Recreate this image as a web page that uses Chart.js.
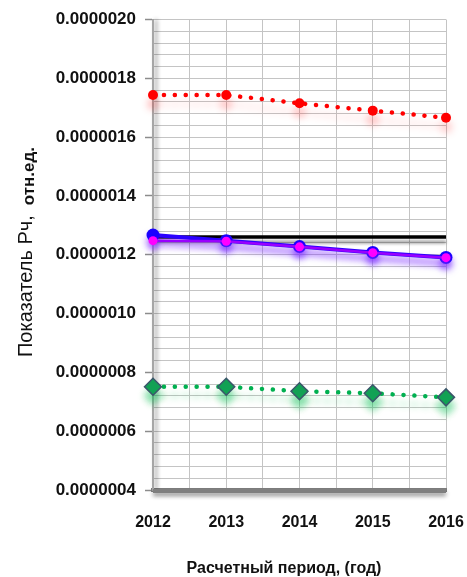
<!DOCTYPE html>
<html>
<head>
<meta charset="utf-8">
<script src="https://cdn.jsdelivr.net/npm/chart.js@4"></script>
<style>
  html, body { margin: 0; padding: 0; background: #ffffff; }
  #wrap { width: 467px; height: 577px; }
</style>
</head>
<body>
<div id="wrap"><canvas id="chart" width="467" height="577"></canvas></div>
<script>
// Calculation years and indicator values (relative units)
const years = [2012, 2013, 2014, 2015, 2016];
const seriesRed     = [0.000001743, 0.000001743, 0.000001715, 0.000001690, 0.000001666];
const seriesBlack   = [0.000001260, 0.000001260, 0.000001260, 0.000001260, 0.000001260];
const seriesBlue    = [0.000001267, 0.000001248, 0.000001228, 0.000001208, 0.000001191];
const seriesMagenta = [0.000001248, 0.000001246, 0.000001227, 0.000001207, 0.000001190];
const seriesGreen   = [0.000000751, 0.000000751, 0.000000736, 0.000000729, 0.000000715];

// Labelled values of the vertical axis; each step is split into minor grid lines
const yTickLabels = ['0.0000004', '0.0000006', '0.0000008', '0.0000010', '0.0000012',
                     '0.0000014', '0.0000016', '0.0000018', '0.0000020'];
const yMinorSplit = 5;
const xGridStep = 0.5;

const yTitleMain = 'Показатель Рч,';
const yTitleUnit = 'отн.ед.';
const xTitle = 'Расчетный период, (год)';

const FONT = '"Liberation Sans", Arial, sans-serif';

const toPoints = arr => arr.map((v, i) => ({ x: years[i], y: v }));

// Soft coloured shadow under a dataset
const glowPlugin = {
  id: 'glow',
  beforeDatasetDraw(chart, args) {
    const g = chart.data.datasets[args.index].glow;
    if (!g) return;
    const ctx = chart.ctx;
    ctx.save();
    ctx.shadowColor = g.color;
    ctx.shadowBlur = g.blur;
    ctx.shadowOffsetX = g.dx || 0;
    ctx.shadowOffsetY = g.dy || 0;
  },
  afterDatasetDraw(chart, args) {
    if (chart.data.datasets[args.index].glow) chart.ctx.restore();
  }
};

// Drop shadow along the two axis lines
const axisShadowPlugin = {
  id: 'axisShadow',
  beforeDatasetsDraw(chart) {
    const { ctx, chartArea: a } = chart;
    ctx.save();
    ctx.lineCap = 'butt';
    ctx.shadowColor = 'rgba(0,0,0,0.45)';
    ctx.shadowBlur = 4;
    ctx.shadowOffsetX = 3;
    ctx.strokeStyle = '#a6a6a6';
    ctx.lineWidth = 2;
    ctx.beginPath();
    ctx.moveTo(a.left, a.top);
    ctx.lineTo(a.left, a.bottom);
    ctx.stroke();
    ctx.shadowOffsetX = 0;
    ctx.shadowOffsetY = 3;
    ctx.strokeStyle = '#7f7f7f';
    ctx.lineWidth = 4;
    ctx.beginPath();
    ctx.moveTo(a.left, a.bottom + 1);
    ctx.lineTo(a.right, a.bottom + 1);
    ctx.stroke();
    ctx.restore();
  }
};

// Axis titles (the vertical one mixes two font styles)
const titlesPlugin = {
  id: 'titles',
  afterDraw(chart) {
    const ctx = chart.ctx;
    ctx.save();
    ctx.fillStyle = '#111111';
    ctx.translate(32, 357);
    ctx.rotate(-Math.PI / 2);
    ctx.textAlign = 'left';
    ctx.textBaseline = 'alphabetic';
    ctx.font = '20px ' + FONT;
    ctx.fillText(yTitleMain, 0, 0);
    const w = ctx.measureText(yTitleMain).width;
    ctx.font = 'bold 17px ' + FONT;
    ctx.fillText(yTitleUnit, w + 10, 2);
    ctx.restore();

    ctx.save();
    ctx.fillStyle = '#111111';
    ctx.font = 'bold 16px ' + FONT;
    ctx.textAlign = 'center';
    ctx.textBaseline = 'middle';
    ctx.fillText(xTitle, 284, 569);
    ctx.restore();
  }
};

const yMajorValues = yTickLabels.map(Number);

new Chart(document.getElementById('chart'), {
  type: 'line',
  data: {
    datasets: [
      {
        label: 'magenta',
        data: toPoints(seriesMagenta),
        borderColor: '#9a00ff',
        borderWidth: 2.5,
        pointStyle: 'circle',
        pointRadius: 4.5,
        pointBackgroundColor: '#ff00ff',
        pointBorderColor: '#ff00ff',
        pointBorderWidth: 0,
        glow: { color: 'rgba(150,60,255,0.55)', blur: 6, dy: 5 },
        order: 1
      },
      {
        label: 'blue',
        data: toPoints(seriesBlue),
        borderColor: '#2a00ff',
        borderWidth: 4,
        pointStyle: 'circle',
        pointRadius: 6.5,
        pointBackgroundColor: '#1a00ff',
        pointBorderColor: '#1a00ff',
        pointBorderWidth: 0,
        glow: { color: 'rgba(110,40,255,0.6)', blur: 7, dy: 6 },
        order: 2
      },
      {
        label: 'black',
        data: toPoints(seriesBlack),
        borderColor: '#000000',
        borderWidth: 3.5,
        pointRadius: 0,
        glow: { color: 'rgba(0,0,0,0.35)', blur: 3, dy: 5 },
        order: 3
      },
      {
        label: 'red',
        data: toPoints(seriesRed),
        borderColor: '#ff0000',
        borderWidth: 4.5,
        borderDash: [0.1, 10.8],
        borderCapStyle: 'round',
        pointStyle: 'circle',
        pointRadius: 5,
        pointBackgroundColor: '#ff0000',
        pointBorderColor: '#ff0000',
        pointBorderWidth: 0,
        glow: { color: 'rgba(255,0,0,0.3)', blur: 9, dy: 9 },
        order: 4
      },
      {
        label: 'green',
        data: toPoints(seriesGreen),
        borderColor: '#00b050',
        borderWidth: 4.5,
        borderDash: [0.1, 10.8],
        borderCapStyle: 'round',
        pointStyle: 'rectRot',
        pointRadius: 8.5,
        pointBackgroundColor: '#13a055',
        pointBorderColor: '#3b566b',
        pointBorderWidth: 1.5,
        glow: { color: 'rgba(0,190,80,0.45)', blur: 7, dy: 9 },
        order: 5
      }
    ]
  },
  options: {
    responsive: false,
    animation: false,
    devicePixelRatio: 1,
    clip: false,
    layout: { padding: { top: 19.5, right: 21, left: 0, bottom: 0 } },
    plugins: { legend: { display: false }, tooltip: { enabled: false } },
    elements: { line: { tension: 0, fill: false } },
    scales: {
      x: {
        type: 'linear',
        min: years[0],
        max: years[years.length - 1],
        afterBuildTicks(scale) {
          const t = [];
          for (let v = years[0]; v <= years[years.length - 1] + 1e-9; v += xGridStep) t.push({ value: v });
          scale.ticks = t;
        },
        afterFit(scale) {
          scale.height = 87;
          scale.paddingLeft = 0;
          scale.paddingRight = 0;
        },
        grid: { color: '#c4c4c4', lineWidth: 1, drawTicks: false },
        border: { display: true, color: '#7f7f7f', width: 4 },
        ticks: {
          autoSkip: false,
          maxRotation: 0,
          padding: 23,
          color: '#111111',
          font: { family: FONT, size: 16, weight: 'bold' },
          callback: v => (Number.isInteger(v) ? String(v) : '')
        }
      },
      y: {
        type: 'linear',
        min: yMajorValues[0],
        max: yMajorValues[yMajorValues.length - 1],
        afterBuildTicks(scale) {
          const t = [];
          for (let i = 0; i < yMajorValues.length - 1; i++) {
            const a = yMajorValues[i], b = yMajorValues[i + 1];
            for (let k = 0; k < yMinorSplit; k++) t.push({ value: a + (b - a) * k / yMinorSplit });
          }
          t.push({ value: yMajorValues[yMajorValues.length - 1] });
          scale.ticks = t;
        },
        afterFit(scale) {
          scale.width = 153;
          scale.paddingTop = 0;
          scale.paddingBottom = 0;
        },
        grid: {
          color: '#c4c4c4',
          lineWidth: 1,
          drawTicks: true,
          tickLength: 8,
          tickWidth: 1.5,
          tickColor: ctx => (ctx.index % yMinorSplit === 0 ? '#8c8c8c' : 'rgba(0,0,0,0)')
        },
        border: { display: true, color: '#a6a6a6', width: 2 },
        ticks: {
          autoSkip: false,
          padding: 9,
          color: '#111111',
          font: { family: FONT, size: 17, weight: 'bold' },
          callback: (v, i) => (i % yMinorSplit === 0 ? yTickLabels[i / yMinorSplit] : '')
        }
      }
    }
  },
  plugins: [axisShadowPlugin, glowPlugin, titlesPlugin]
});
</script>
</body>
</html>
